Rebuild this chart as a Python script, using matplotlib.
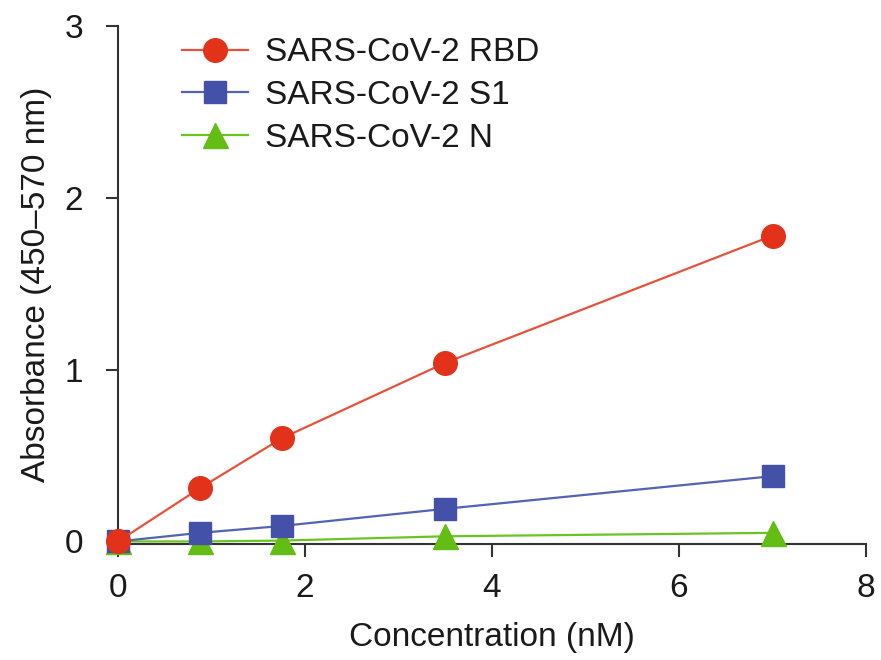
import matplotlib
matplotlib.use("Agg")
import matplotlib.pyplot as plt

plt.rcParams['font.family'] = ['Liberation Sans', 'DejaVu Sans']

# Concentrations (nM) and absorbance readings
conc = [0, 0.875, 1.75, 3.5, 7]
rbd = [0.0, 0.31, 0.60, 1.04, 1.78]
s1 = [0.0, 0.05, 0.09, 0.19, 0.38]
n_prot = [0.0, 0.0, 0.005, 0.03, 0.05]

labels = ["SARS-CoV-2 RBD", "SARS-CoV-2 S1", "SARS-CoV-2 N"]
x_ticks = [0, 2, 4, 6, 8]
y_ticks = [0, 1, 2, 3]

fig = plt.figure(figsize=(8.81, 6.6), dpi=100)
ax = fig.add_axes([0.134, 0.1765, 0.849, 0.784])

spine_col = "#333333"
text_col = "#1a1a1a"
fs = 24

ax.plot(conc, n_prot, color="#6cc424", lw=1.6, marker="^", ms=18,
        mfc="#64bd14", mec="#64bd14", label=labels[2], zorder=3, clip_on=False)
ax.plot(conc, s1, color="#5563b5", lw=1.6, marker="s", ms=16.5,
        mfc="#4351a8", mec="#4351a8", label=labels[1], zorder=4, clip_on=False)
ax.plot(conc, rbd, color="#e8523a", lw=1.6, marker="o", ms=17,
        mfc="#e2321a", mec="#e2321a", label=labels[0], zorder=5, clip_on=False)

ax.set_xlim(0, 8)
ax.set_ylim(-0.012, 3)
ax.set_xticks(x_ticks)
ax.set_yticks(y_ticks)

for side in ["top", "right"]:
    ax.spines[side].set_visible(False)
for side in ["left", "bottom"]:
    ax.spines[side].set_color(spine_col)
    ax.spines[side].set_linewidth(1.5)

ax.tick_params(axis="both", direction="out", length=9, width=1.5,
               color=spine_col, labelsize=fs, labelcolor=text_col)
ax.tick_params(axis="x", pad=12)
ax.tick_params(axis="y", pad=16)

ax.set_xlabel("Concentration (nM)", fontsize=fs, color=text_col, labelpad=13)
ax.set_ylabel("Absorbance (450\u2013570 nm)", fontsize=fs, color=text_col, labelpad=9)

handles, labs = ax.get_legend_handles_labels()
order = [2, 1, 0]
leg = ax.legend([handles[i] for i in order], [labs[i] for i in order],
                loc="upper left", bbox_to_anchor=(0.085, 0.978), frameon=False,
                fontsize=fs, handlelength=2.0, handletextpad=0.5,
                labelspacing=0.35, borderaxespad=0, borderpad=0)
for t in leg.get_texts():
    t.set_color(text_col)

fig.savefig("out.png", dpi=100)
